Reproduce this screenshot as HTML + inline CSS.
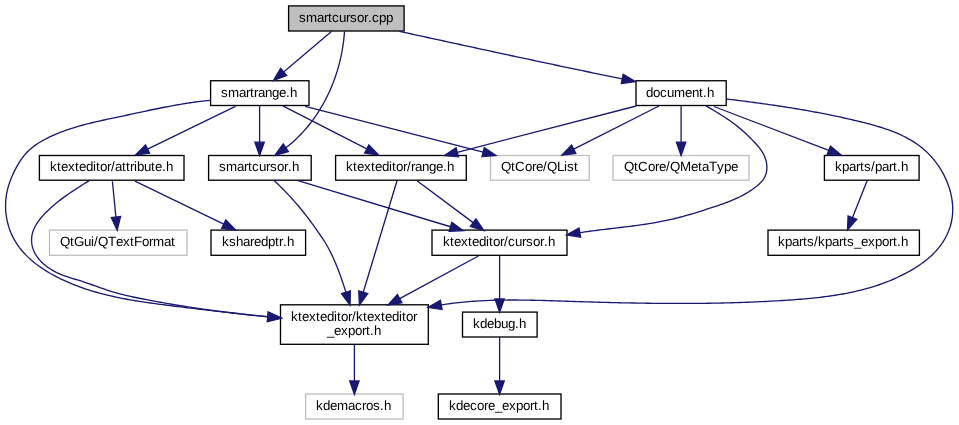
<!DOCTYPE html>
<html><head><meta charset="utf-8"><style>
html,body{margin:0;padding:0;background:#fff;width:959px;height:425px;overflow:hidden}
svg{display:block;will-change:transform}
text{text-rendering:geometricPrecision;font-family:"Liberation Sans",sans-serif;font-size:13.33px;fill:#000}
</style></head><body>
<svg width="959" height="425" viewBox="0 0 959 425">
<rect x="288.6" y="5.9" width="115.5" height="25.1" fill="#bfbfbf" stroke="#000000" stroke-width="1.33"/>
<text x="299 306 317 324 328 332 339 346 350 357 364 368 372 379 386" y="22">smartcursor.cpp</text>
<rect x="210.6" y="80.75" width="98.4" height="24.75" fill="#ffffff" stroke="#000000" stroke-width="1.33"/>
<text x="221 228 239 246 250 254 258 265 272 279 286 290" y="97">smartrange.h</text>
<rect x="636" y="80.75" width="90.2" height="24.75" fill="#ffffff" stroke="#000000" stroke-width="1.33"/>
<text x="646 653 660 667 674 685 692 699 703 707" y="97">document.h</text>
<rect x="39.4" y="155.5" width="144.6" height="24.7" fill="#ffffff" stroke="#000000" stroke-width="1.33"/>
<text x="50 57 61 68 75 79 86 93 96 100 107 111 115 122 126 130 134 137 144 151 155 162 166" y="171">ktexteditor/attribute.h</text>
<rect x="208.6" y="155.5" width="102.6" height="24.7" fill="#ffffff" stroke="#000000" stroke-width="1.33"/>
<text x="219 226 237 244 248 252 259 266 270 277 284 288 292" y="171">smartcursor.h</text>
<rect x="335.6" y="155.5" width="130.7" height="24.7" fill="#ffffff" stroke="#000000" stroke-width="1.33"/>
<text x="346 353 357 364 371 375 382 389 392 396 403 407 411 415 422 429 436 443 447" y="171">ktexteditor/range.h</text>
<rect x="490.5" y="155.5" width="98.7" height="24.7" fill="#ffffff" stroke="#bfbfbf" stroke-width="1.33"/>
<text x="501 511 515 525 532 536 543 547 557 564 567 574" y="171">QtCore/QList</text>
<rect x="613" y="155.5" width="136" height="24.7" fill="#ffffff" stroke="#bfbfbf" stroke-width="1.33"/>
<text x="624 634 638 648 655 659 666 670 680 691 698 702 709 717 724 731" y="171">QtCore/QMetaType</text>
<rect x="824.4" y="155.5" width="94.7" height="24.7" fill="#ffffff" stroke="#000000" stroke-width="1.33"/>
<text x="835 842 849 856 860 864 871 875 882 889 893 897 901" y="171">kparts/part.h</text>
<rect x="49.5" y="230.1" width="137.5" height="25.2" fill="#ffffff" stroke="#bfbfbf" stroke-width="1.33"/>
<text x="60 70 74 84 91 94 98 108 116 123 130 134 142 149 153 164 171" y="246">QtGui/QTextFormat</text>
<rect x="211" y="230.1" width="94.6" height="25.2" fill="#ffffff" stroke="#000000" stroke-width="1.33"/>
<text x="222 229 236 243 250 254 261 268 275 279 283 287" y="246">ksharedptr.h</text>
<rect x="432" y="230.1" width="135" height="25.2" fill="#ffffff" stroke="#000000" stroke-width="1.33"/>
<text x="443 450 454 461 468 472 479 486 489 493 500 504 508 515 522 526 533 540 544 548" y="246">ktexteditor/cursor.h</text>
<rect x="768" y="230.1" width="151.4" height="25.2" fill="#ffffff" stroke="#000000" stroke-width="1.33"/>
<text x="778 785 792 799 803 807 814 818 825 832 839 843 847 854 861 868 875 882 889 893 897 901" y="246">kparts/kparts_export.h</text>
<rect x="280.5" y="304.8" width="147.8" height="39.5" fill="#ffffff" stroke="#000000" stroke-width="1.33"/>
<text x="291 298 302 309 316 320 327 334 337 341 348 352 356 363 367 374 381 385 392 399 402 406 413" y="321">ktexteditor/ktexteditor</text>
<text x="327 334 341 348 355 362 366 370 374" y="335">_export.h</text>
<rect x="462.5" y="312.1" width="74.6" height="24.9" fill="#ffffff" stroke="#000000" stroke-width="1.33"/>
<text x="473 480 487 494 501 508 515 519" y="328">kdebug.h</text>
<rect x="305.6" y="394" width="97.5" height="25" fill="#ffffff" stroke="#bfbfbf" stroke-width="1.33"/>
<text x="316 323 330 337 348 355 362 366 373 380 384" y="410">kdemacros.h</text>
<rect x="438.3" y="394" width="122.7" height="25" fill="#ffffff" stroke="#000000" stroke-width="1.33"/>
<text x="449 456 463 470 477 484 488 495 502 509 516 523 530 534 538 542" y="410">kdecore_export.h</text>
<path d="M332,31 L283.65,71.91" fill="none" stroke="#191970" stroke-width="1.33"/>
<polygon points="280.64,68.34 273.5,80.5 286.67,75.47" fill="#191970" stroke="#191970" stroke-width="1.33"/>
<path d="M344.5,31.3 L344.31,33.88 L344.08,36.45 L343.82,39.02 L343.51,41.58 L343.17,44.15 L342.79,46.7 L342.37,49.25 L341.92,51.79 L341.43,54.33 L340.9,56.86 L340.33,59.38 L339.73,61.89 L339.09,64.39 L338.41,66.89 L337.69,69.37 L336.94,71.84 L336.16,74.3 L335.33,76.75 L334.47,79.18 L333.58,81.61 L332.64,84.02 L331.67,86.41 L330.67,88.79 L329.62,91.15 L328.54,93.5 L327.43,95.83 L326.28,98.14 L325.09,100.44 L323.86,102.71 L322.6,104.96 L321.3,107.2 L319.97,109.41 L318.6,111.6 L317.19,113.77 L315.75,115.91 L314.27,118.03 L312.76,120.12 L311.21,122.19 L309.62,124.23 L308,126.24 L306.34,128.22 L304.65,130.17 L302.92,132.09 L301.16,133.98 L299.36,135.83 L297.53,137.65 L295.66,139.44 L293.76,141.19 L291.83,142.91 L289.86,144.58 L287.87,146.22 L285.84,147.82" fill="none" stroke="#191970" stroke-width="1.33"/>
<polygon points="283.18,143.98 274.9,155.4 288.5,151.66" fill="#191970" stroke="#191970" stroke-width="1.33"/>
<path d="M399.2,31.3 L401.68,31.84 L404.15,32.38 L406.63,32.92 L409.1,33.46 L411.58,34 L414.06,34.54 L416.53,35.08 L419.01,35.62 L421.49,36.16 L423.96,36.7 L426.44,37.23 L428.91,37.77 L431.39,38.31 L433.87,38.85 L436.34,39.39 L438.82,39.93 L441.3,40.47 L443.77,41.01 L446.25,41.55 L448.73,42.09 L451.2,42.62 L453.68,43.16 L456.16,43.7 L458.63,44.24 L461.11,44.77 L463.59,45.31 L466.06,45.85 L468.54,46.39 L471.02,46.92 L473.49,47.46 L475.97,48 L478.45,48.53 L480.92,49.07 L483.4,49.6 L485.88,50.14 L488.35,50.67 L490.83,51.21 L493.31,51.74 L495.79,52.28 L498.26,52.81 L500.74,53.35 L503.22,53.88 L505.7,54.41 L508.17,54.94 L510.65,55.48 L513.13,56.01 L515.61,56.54 L518.09,57.07 L520.56,57.6 L523.04,58.13 L525.52,58.66 L528,59.19 L530.48,59.72 L532.96,60.25 L535.43,60.78 L537.91,61.31 L540.39,61.83 L542.87,62.36 L545.35,62.89 L547.83,63.41 L550.31,63.94 L552.79,64.46 L555.27,64.99 L557.75,65.51 L560.23,66.04 L562.71,66.56 L565.19,67.08 L567.67,67.6 L570.15,68.12 L572.63,68.64 L575.11,69.16 L577.59,69.68 L580.07,70.2 L582.55,70.72 L585.03,71.24 L587.51,71.76 L589.99,72.27 L592.47,72.79 L594.95,73.3 L597.44,73.82 L599.92,74.33 L602.4,74.85 L604.88,75.36 L607.36,75.87 L609.85,76.38 L612.33,76.89 L614.81,77.4 L617.29,77.91 L619.78,78.42 L622.26,78.93" fill="none" stroke="#191970" stroke-width="1.33"/>
<polygon points="621.33,83.5 635.4,81.6 623.19,74.35" fill="#191970" stroke="#191970" stroke-width="1.33"/>
<path d="M210.3,100.3 L207.8,100.55 L205.3,100.81 L202.81,101.09 L200.31,101.39 L197.82,101.7 L195.33,102.03 L192.84,102.38 L190.36,102.74 L187.87,103.11 L185.39,103.5 L182.91,103.9 L180.44,104.31 L177.96,104.73 L175.49,105.17 L173.02,105.62 L170.55,106.07 L168.08,106.54 L165.61,107.01 L163.15,107.49 L160.68,107.98 L158.22,108.48 L155.76,108.98 L153.3,109.49 L150.84,110 L148.38,110.52 L145.93,111.04 L143.47,111.57 L141.02,112.09 L138.56,112.62 L136.1,113.15 L133.65,113.68 L131.2,114.21 L128.74,114.74 L126.28,115.27 L123.83,115.8 L121.37,116.32 L118.92,116.84 L116.46,117.36 L114,117.88 L111.54,118.4 L109.09,118.92 L106.63,119.45 L104.18,119.98 L101.72,120.51 L99.27,121.06 L96.82,121.61 L94.37,122.18 L91.93,122.76 L89.49,123.35 L87.05,123.96 L84.62,124.59 L82.2,125.24 L79.77,125.91 L77.36,126.6 L74.95,127.31 L72.55,128.05 L70.16,128.82 L67.78,129.62 L65.41,130.44 L63.05,131.3 L60.7,132.19 L58.36,133.12 L56.05,134.08 L53.74,135.09 L51.46,136.12 L49.19,137.2 L46.94,138.32 L44.71,139.49 L42.51,140.7 L40.34,141.96 L38.2,143.27 L36.11,144.66 L34.06,146.12 L32.07,147.65 L30.15,149.27 L28.31,150.97 L26.55,152.77 L24.89,154.65 L23.31,156.6 L21.81,158.62 L20.38,160.68 L19.03,162.8 L17.74,164.95 L16.5,167.14 L15.32,169.35 L14.18,171.6 L13.1,173.86 L12.08,176.15 L11.11,178.47 L10.21,180.82 L9.37,183.19 L8.61,185.58 L7.92,187.99 L7.32,190.43 L6.8,192.89 L6.36,195.36 L6.02,197.85 L5.78,200.35 L5.62,202.86 L5.56,205.37 L5.6,207.88 L5.72,210.39 L5.93,212.89 L6.23,215.38 L6.61,217.86 L7.08,220.33 L7.64,222.78 L8.28,225.21 L9.01,227.61 L9.82,229.99 L10.73,232.33 L11.72,234.64 L12.8,236.91 L13.97,239.13 L15.22,241.31 L16.55,243.43 L17.96,245.51 L19.44,247.54 L20.99,249.52 L22.61,251.44 L24.28,253.31 L26.02,255.13 L27.8,256.89 L29.63,258.61 L31.51,260.28 L33.44,261.89 L35.4,263.46 L37.39,264.98 L39.43,266.46 L41.49,267.9 L43.58,269.29 L45.7,270.64 L47.84,271.95 L50,273.23 L52.19,274.46 L54.39,275.67 L56.61,276.83 L58.85,277.97 L61.11,279.08 L63.38,280.15 L65.66,281.2 L67.96,282.21 L70.27,283.2 L72.59,284.16 L74.92,285.09 L77.27,285.99 L79.62,286.86 L81.99,287.71 L84.36,288.53 L86.75,289.32 L89.14,290.09 L91.54,290.83 L93.94,291.55 L96.35,292.25 L98.77,292.92 L101.2,293.58 L103.63,294.21 L106.07,294.81 L108.51,295.4 L110.95,295.97 L113.41,296.52 L115.86,297.06 L118.32,297.57 L120.78,298.07 L123.24,298.56 L125.71,299.02 L128.18,299.48 L130.65,299.92 L133.13,300.34 L135.61,300.76 L138.09,301.16 L140.57,301.55 L143.05,301.93 L145.53,302.3 L148.02,302.67 L150.5,303.02 L152.99,303.37 L155.48,303.71 L157.97,304.04 L160.46,304.37 L162.95,304.7 L165.44,305.02 L167.93,305.34 L170.42,305.65 L172.92,305.97 L175.41,306.28 L177.9,306.59 L180.39,306.89 L182.89,307.2 L185.38,307.5 L187.87,307.8 L190.37,308.1 L192.86,308.4 L195.35,308.7 L197.85,309 L200.34,309.29 L202.84,309.58 L205.33,309.87 L207.83,310.16 L210.32,310.45 L212.82,310.73 L215.31,311.02 L217.81,311.3 L220.3,311.58 L222.8,311.86 L225.3,312.14 L227.79,312.42 L230.29,312.7 L232.78,312.97 L235.28,313.24 L237.78,313.52 L240.27,313.79 L242.77,314.06 L245.27,314.33 L247.77,314.6 L250.26,314.86 L252.76,315.13 L255.26,315.4 L257.76,315.66 L260.25,315.92 L262.75,316.19 L265.25,316.45 L267.75,316.71" fill="none" stroke="#191970" stroke-width="1.33"/>
<polygon points="267.27,321.35 281.2,318.1 268.23,312.06" fill="#191970" stroke="#191970" stroke-width="1.33"/>
<path d="M235.4,106.4 L147.56,149.09" fill="none" stroke="#191970" stroke-width="1.33"/>
<polygon points="145.52,144.89 135.6,154.9 149.6,153.29" fill="#191970" stroke="#191970" stroke-width="1.33"/>
<path d="M259.6,106 L259.6,142.2" fill="none" stroke="#191970" stroke-width="1.33"/>
<polygon points="254.93,142.2 259.6,155.5 264.27,142.2" fill="#191970" stroke="#191970" stroke-width="1.33"/>
<path d="M282.3,105.7 L366.76,148.94" fill="none" stroke="#191970" stroke-width="1.33"/>
<polygon points="364.63,153.1 378.6,155 368.89,144.78" fill="#191970" stroke="#191970" stroke-width="1.33"/>
<path d="M305.2,106.4 L483.12,152.19" fill="none" stroke="#191970" stroke-width="1.33"/>
<polygon points="481.96,156.71 496,155.5 484.28,147.66" fill="#191970" stroke="#191970" stroke-width="1.33"/>
<path d="M636.2,106 L457.28,152.27" fill="none" stroke="#191970" stroke-width="1.33"/>
<polygon points="456.11,147.75 444.4,155.6 458.45,156.79" fill="#191970" stroke="#191970" stroke-width="1.33"/>
<path d="M659,106 L573.76,149.19" fill="none" stroke="#191970" stroke-width="1.33"/>
<polygon points="571.65,145.02 561.9,155.2 575.87,153.35" fill="#191970" stroke="#191970" stroke-width="1.33"/>
<path d="M681.1,106 L681.1,142.2" fill="none" stroke="#191970" stroke-width="1.33"/>
<polygon points="676.43,142.2 681.1,155.5 685.77,142.2" fill="#191970" stroke="#191970" stroke-width="1.33"/>
<path d="M705.9,105.9 L708.11,107.14 L710.31,108.4 L712.51,109.67 L714.69,110.96 L716.86,112.27 L719.03,113.59 L721.18,114.94 L723.31,116.3 L725.43,117.69 L727.53,119.11 L729.62,120.56 L731.68,122.03 L733.73,123.53 L735.74,125.07 L737.74,126.63 L739.7,128.24 L741.64,129.87 L743.55,131.54 L745.43,133.25 L747.28,134.98 L749.1,136.74 L750.9,138.53 L752.67,140.35 L754.41,142.19 L756.13,144.05 L757.8,145.96 L759.41,147.92 L760.92,149.96 L762.32,152.07 L763.56,154.28 L764.63,156.58 L765.51,158.96 L766.18,161.4 L766.65,163.89 L766.88,166.42 L766.87,168.95 L766.58,171.47 L766,173.94 L765.11,176.31 L763.9,178.54 L762.42,180.59 L760.74,182.49 L758.91,184.25 L756.99,185.91 L755.01,187.48 L752.97,188.99 L750.88,190.43 L748.75,191.81 L746.59,193.13 L744.38,194.39 L742.15,195.59 L739.89,196.74 L737.6,197.83 L735.3,198.89 L732.97,199.9 L730.63,200.87 L728.27,201.8 L725.9,202.7 L723.52,203.58 L721.13,204.43 L718.74,205.26 L716.34,206.07 L713.93,206.88 L711.52,207.67 L709.11,208.45 L706.7,209.23 L704.28,210.01 L701.87,210.78 L699.45,211.55 L697.03,212.31 L694.61,213.05 L692.18,213.79 L689.75,214.51 L687.31,215.22 L684.87,215.91 L682.43,216.59 L679.98,217.24 L677.53,217.88 L675.07,218.49 L672.6,219.09 L670.13,219.65 L667.65,220.2 L665.17,220.72 L662.69,221.22 L660.2,221.7 L657.7,222.17 L655.21,222.61 L652.71,223.04 L650.2,223.45 L647.7,223.85 L645.19,224.23 L642.68,224.6 L640.17,224.96 L637.66,225.3 L635.15,225.64 L632.63,225.97 L630.12,226.29 L627.6,226.61 L625.09,226.92 L622.57,227.22 L620.05,227.53 L617.53,227.83 L615.01,228.12 L612.5,228.42 L609.98,228.72 L607.46,229.02 L604.94,229.32 L602.42,229.63 L599.91,229.94 L597.39,230.25 L594.88,230.58 L592.36,230.91 L589.85,231.25 L587.34,231.59 L584.83,231.95 L582.32,232.33 L579.81,232.71" fill="none" stroke="#191970" stroke-width="1.33"/>
<polygon points="579.01,228.11 566.6,235 580.61,237.31" fill="#191970" stroke="#191970" stroke-width="1.33"/>
<path d="M713.9,106.5 L828.77,150.36" fill="none" stroke="#191970" stroke-width="1.33"/>
<polygon points="827.11,154.72 841.2,155.1 830.44,145.99" fill="#191970" stroke="#191970" stroke-width="1.33"/>
<path d="M726.7,99 L729.19,99.3 L731.69,99.61 L734.18,99.92 L736.67,100.23 L739.17,100.55 L741.66,100.86 L744.15,101.18 L746.64,101.5 L749.13,101.83 L751.62,102.16 L754.12,102.49 L756.61,102.82 L759.09,103.16 L761.58,103.5 L764.07,103.85 L766.56,104.2 L769.05,104.56 L771.53,104.91 L774.02,105.28 L776.51,105.65 L778.99,106.02 L781.47,106.39 L783.96,106.78 L786.44,107.16 L788.92,107.56 L791.4,107.95 L793.88,108.36 L796.36,108.77 L798.84,109.18 L801.32,109.6 L803.79,110.03 L806.27,110.46 L808.74,110.9 L811.21,111.34 L813.69,111.8 L816.16,112.25 L818.62,112.72 L821.09,113.19 L823.56,113.67 L826.02,114.15 L828.49,114.65 L830.95,115.15 L833.41,115.65 L835.87,116.17 L838.33,116.69 L840.78,117.22 L843.24,117.76 L845.69,118.3 L848.14,118.85 L850.59,119.41 L853.04,119.98 L855.48,120.56 L857.93,121.14 L860.37,121.74 L862.81,122.34 L865.24,122.95 L867.68,123.58 L870.11,124.22 L872.53,124.88 L874.95,125.56 L877.36,126.27 L879.77,126.99 L882.16,127.74 L884.55,128.52 L886.93,129.33 L889.3,130.17 L891.65,131.05 L893.99,131.96 L896.32,132.91 L898.63,133.9 L900.92,134.94 L903.18,136.02 L905.43,137.15 L907.65,138.32 L909.84,139.55 L912,140.83 L914.13,142.16 L916.23,143.55 L918.28,145 L920.29,146.5 L922.26,148.06 L924.18,149.68 L926.05,151.36 L927.87,153.1 L929.63,154.89 L931.33,156.74 L932.98,158.63 L934.58,160.57 L936.11,162.56 L937.59,164.59 L939.01,166.67 L940.37,168.78 L941.66,170.93 L942.9,173.12 L944.07,175.34 L945.18,177.6 L946.22,179.88 L947.19,182.2 L948.09,184.55 L948.92,186.92 L949.67,189.31 L950.35,191.73 L950.95,194.17 L951.47,196.63 L951.9,199.11 L952.24,201.6 L952.49,204.1 L952.65,206.6 L952.71,209.11 L952.68,211.63 L952.54,214.14 L952.29,216.64 L951.93,219.12 L951.47,221.59 L950.9,224.04 L950.21,226.45 L949.43,228.84 L948.54,231.19 L947.56,233.5 L946.48,235.77 L945.31,238 L944.06,240.18 L942.73,242.31 L941.32,244.38 L939.83,246.41 L938.27,248.38 L936.64,250.29 L934.94,252.14 L933.18,253.93 L931.37,255.67 L929.5,257.36 L927.59,258.99 L925.64,260.57 L923.65,262.1 L921.62,263.58 L919.56,265.01 L917.46,266.41 L915.35,267.76 L913.2,269.07 L911.04,270.34 L908.85,271.58 L906.64,272.78 L904.42,273.95 L902.18,275.09 L899.92,276.2 L897.65,277.27 L895.37,278.31 L893.07,279.32 L890.75,280.3 L888.43,281.25 L886.09,282.17 L883.74,283.06 L881.38,283.92 L879.01,284.75 L876.62,285.55 L874.23,286.32 L871.83,287.06 L869.43,287.78 L867.01,288.47 L864.59,289.13 L862.16,289.77 L859.72,290.38 L857.28,290.97 L854.83,291.54 L852.38,292.08 L849.92,292.6 L847.45,293.09 L844.99,293.57 L842.52,294.02 L840.04,294.46 L837.56,294.87 L835.08,295.27 L832.6,295.65 L830.11,296.01 L827.63,296.36 L825.13,296.69 L822.64,297 L820.15,297.3 L817.65,297.59 L815.15,297.86 L812.65,298.12 L810.15,298.37 L807.65,298.61 L805.15,298.83 L802.65,299.05 L800.14,299.25 L797.64,299.45 L795.13,299.64 L792.63,299.82 L790.12,300 L787.62,300.17 L785.11,300.33 L782.6,300.49 L780.09,300.64 L777.58,300.79 L775.08,300.94 L772.57,301.08 L770.06,301.21 L767.55,301.34 L765.04,301.47 L762.53,301.59 L760.02,301.71 L757.51,301.82 L755,301.93 L752.49,302.04 L749.98,302.14 L747.47,302.24 L744.96,302.33 L742.45,302.42 L739.94,302.5 L737.43,302.58 L734.92,302.66 L732.4,302.73 L729.89,302.8 L727.38,302.87 L724.87,302.93 L722.36,302.99 L719.85,303.04 L717.33,303.09 L714.82,303.14 L712.31,303.18 L709.8,303.22 L707.29,303.26 L704.77,303.29 L702.26,303.32 L699.75,303.35 L697.24,303.37 L694.72,303.39 L692.21,303.41 L689.7,303.42 L687.19,303.44 L684.67,303.44 L682.16,303.45 L679.65,303.45 L677.14,303.45 L674.62,303.44 L672.11,303.44 L669.6,303.43 L667.09,303.42 L664.57,303.4 L662.06,303.38 L659.55,303.36 L657.04,303.34 L654.53,303.32 L652.01,303.29 L649.5,303.26 L646.99,303.23 L644.48,303.19 L641.96,303.16 L639.45,303.12 L636.94,303.08 L634.43,303.03 L631.92,302.99 L629.4,302.94 L626.89,302.89 L624.38,302.84 L621.87,302.79 L619.36,302.73 L616.84,302.67 L614.33,302.62 L611.82,302.56 L609.31,302.49 L606.8,302.43 L604.29,302.37 L601.77,302.3 L599.26,302.23 L596.75,302.16 L594.24,302.09 L591.73,302.02 L589.22,301.95 L586.71,301.87 L584.19,301.8 L581.68,301.72 L579.17,301.64 L576.66,301.56 L574.15,301.48 L571.64,301.4 L569.13,301.32 L566.62,301.24 L564.11,301.16 L561.59,301.07 L559.08,300.99 L556.57,300.91 L554.06,300.83 L551.55,300.75 L549.04,300.67 L546.53,300.6 L544.02,300.52 L541.5,300.45 L538.99,300.39 L536.48,300.33 L533.97,300.27 L531.46,300.22 L528.95,300.17 L526.43,300.13 L523.92,300.09 L521.41,300.06 L518.9,300.04 L516.38,300.03 L513.87,300.02 L511.36,300.02 L508.85,300.03 L506.33,300.05 L503.82,300.07 L501.31,300.11 L498.8,300.16 L496.29,300.21 L493.77,300.28 L491.26,300.36 L488.75,300.45 L486.24,300.56 L483.73,300.67 L481.22,300.8 L478.71,300.94 L476.21,301.1 L473.7,301.27 L471.19,301.45 L468.69,301.65 L466.19,301.87 L463.69,302.1 L461.19,302.35 L458.69,302.61 L456.19,302.89 L453.7,303.19 L451.2,303.51 L448.71,303.84 L446.23,304.2 L443.74,304.57 L441.26,304.96" fill="none" stroke="#191970" stroke-width="1.33"/>
<polygon points="440.41,300.37 428,307.4 442.1,309.55" fill="#191970" stroke="#191970" stroke-width="1.33"/>
<path d="M89.4,180.5 L87.26,181.84 L85.12,183.18 L82.98,184.53 L80.84,185.87 L78.71,187.23 L76.59,188.59 L74.47,189.97 L72.36,191.36 L70.26,192.77 L68.18,194.19 L66.11,195.64 L64.06,197.11 L62.03,198.61 L60.01,200.14 L58.03,201.7 L56.06,203.29 L54.13,204.91 L52.22,206.56 L50.34,208.25 L48.49,209.97 L46.68,211.73 L44.9,213.53 L43.18,215.37 L41.51,217.27 L39.91,219.22 L38.39,221.24 L36.97,223.33 L35.66,225.49 L34.49,227.72 L33.48,230.04 L32.66,232.43 L32.06,234.88 L31.69,237.38 L31.55,239.9 L31.64,242.42 L31.98,244.92 L32.54,247.39 L33.33,249.78 L34.34,252.1 L35.53,254.32 L36.9,256.45 L38.41,258.47 L40.04,260.4 L41.79,262.22 L43.63,263.95 L45.57,265.57 L47.58,267.09 L49.66,268.52 L51.8,269.86 L54,271.11 L56.24,272.28 L58.52,273.36 L60.84,274.36 L63.19,275.3 L65.56,276.17 L67.95,276.98 L70.35,277.76 L72.76,278.51 L75.18,279.24 L77.6,279.97 L80.01,280.72 L82.42,281.48 L84.82,282.27 L87.21,283.08 L89.59,283.91 L91.98,284.75 L94.35,285.6 L96.73,286.45 L99.11,287.3 L101.49,288.15 L103.88,288.98 L106.27,289.79 L108.67,290.59 L111.07,291.35 L113.49,292.09 L115.91,292.8 L118.35,293.47 L120.79,294.11 L123.24,294.73 L125.69,295.33 L128.15,295.9 L130.62,296.45 L133.09,296.98 L135.56,297.5 L138.03,298.01 L140.51,298.51 L142.99,298.99 L145.47,299.47 L147.95,299.95 L150.43,300.42 L152.91,300.88 L155.4,301.34 L157.88,301.79 L160.37,302.24 L162.85,302.68 L165.34,303.12 L167.83,303.55 L170.32,303.98 L172.81,304.4 L175.3,304.81 L177.79,305.22 L180.29,305.63 L182.78,306.03 L185.27,306.43 L187.77,306.82 L190.27,307.2 L192.76,307.58 L195.26,307.96 L197.76,308.33 L200.26,308.69 L202.76,309.05 L205.26,309.41 L207.76,309.76 L210.26,310.11 L212.76,310.45 L215.27,310.79 L217.77,311.12 L220.28,311.45 L222.78,311.77 L225.29,312.09 L227.79,312.41 L230.3,312.72 L232.81,313.02 L235.31,313.32 L237.82,313.62 L240.33,313.91 L242.84,314.2 L245.35,314.49 L247.86,314.77 L250.37,315.04 L252.88,315.31 L255.39,315.58 L257.9,315.85 L260.42,316.1 L262.93,316.36 L265.44,316.61 L267.96,316.86" fill="none" stroke="#191970" stroke-width="1.33"/>
<polygon points="267.52,321.51 281.2,318.1 268.39,312.21" fill="#191970" stroke="#191970" stroke-width="1.33"/>
<path d="M112.4,181.2 L115.91,217.06" fill="none" stroke="#191970" stroke-width="1.33"/>
<polygon points="111.26,217.52 117.2,230.3 120.55,216.61" fill="#191970" stroke="#191970" stroke-width="1.33"/>
<path d="M135,181.2 L223.73,224.2" fill="none" stroke="#191970" stroke-width="1.33"/>
<polygon points="221.69,228.4 235.7,230 225.77,220" fill="#191970" stroke="#191970" stroke-width="1.33"/>
<path d="M274.1,180.5 L275.99,182.27 L277.86,184.06 L279.71,185.87 L281.55,187.69 L283.37,189.53 L285.18,191.39 L286.97,193.26 L288.74,195.14 L290.5,197.04 L292.24,198.96 L293.96,200.89 L295.67,202.84 L297.36,204.8 L299.03,206.77 L300.69,208.76 L302.33,210.77 L303.95,212.78 L305.56,214.82 L307.15,216.86 L308.72,218.92 L310.27,220.99 L311.81,223.07 L313.33,225.17 L314.83,227.27 L316.33,229.39 L317.81,231.51 L319.29,233.64 L320.75,235.77 L322.21,237.91 L323.63,240.08 L325.01,242.27 L326.34,244.49 L327.62,246.74 L328.87,249.01 L330.07,251.3 L331.22,253.62 L332.35,255.95 L333.43,258.3 L334.48,260.67 L335.5,263.05 L336.48,265.44 L337.44,267.85 L338.37,270.26 L339.28,272.69 L340.17,275.12 L341.04,277.56 L341.89,280 L342.72,282.45 L343.54,284.91 L344.35,287.37 L345.15,289.83 L345.94,292.3" fill="none" stroke="#191970" stroke-width="1.33"/>
<polygon points="341.49,293.72 350,305 350.39,290.87" fill="#191970" stroke="#191970" stroke-width="1.33"/>
<path d="M298,180.7 L450.47,226.75" fill="none" stroke="#191970" stroke-width="1.33"/>
<polygon points="449.12,231.22 463.2,230.6 451.82,222.28" fill="#191970" stroke="#191970" stroke-width="1.33"/>
<path d="M397,180.7 L363.25,292.27" fill="none" stroke="#191970" stroke-width="1.33"/>
<polygon points="358.78,290.92 359.4,305 367.72,293.62" fill="#191970" stroke="#191970" stroke-width="1.33"/>
<path d="M417,180.7 L473.14,222.64" fill="none" stroke="#191970" stroke-width="1.33"/>
<polygon points="470.35,226.38 483.8,230.6 475.94,218.9" fill="#191970" stroke="#191970" stroke-width="1.33"/>
<path d="M867.2,180.6 L852.43,217.65" fill="none" stroke="#191970" stroke-width="1.33"/>
<polygon points="848.09,215.92 847.5,230 856.76,219.38" fill="#191970" stroke="#191970" stroke-width="1.33"/>
<path d="M478.4,256 L399.69,298.66" fill="none" stroke="#191970" stroke-width="1.33"/>
<polygon points="397.47,294.56 388,305 401.92,302.77" fill="#191970" stroke="#191970" stroke-width="1.33"/>
<path d="M499.6,255.5 L499.6,298.9" fill="none" stroke="#191970" stroke-width="1.33"/>
<polygon points="494.93,298.9 499.6,312.2 504.27,298.9" fill="#191970" stroke="#191970" stroke-width="1.33"/>
<path d="M354.4,344.5 L354.4,381" fill="none" stroke="#191970" stroke-width="1.33"/>
<polygon points="349.73,381 354.4,394.3 359.07,381" fill="#191970" stroke="#191970" stroke-width="1.33"/>
<path d="M499.6,337.3 L499.6,381" fill="none" stroke="#191970" stroke-width="1.33"/>
<polygon points="494.93,381 499.6,394.3 504.27,381" fill="#191970" stroke="#191970" stroke-width="1.33"/>
</svg>
</body></html>
